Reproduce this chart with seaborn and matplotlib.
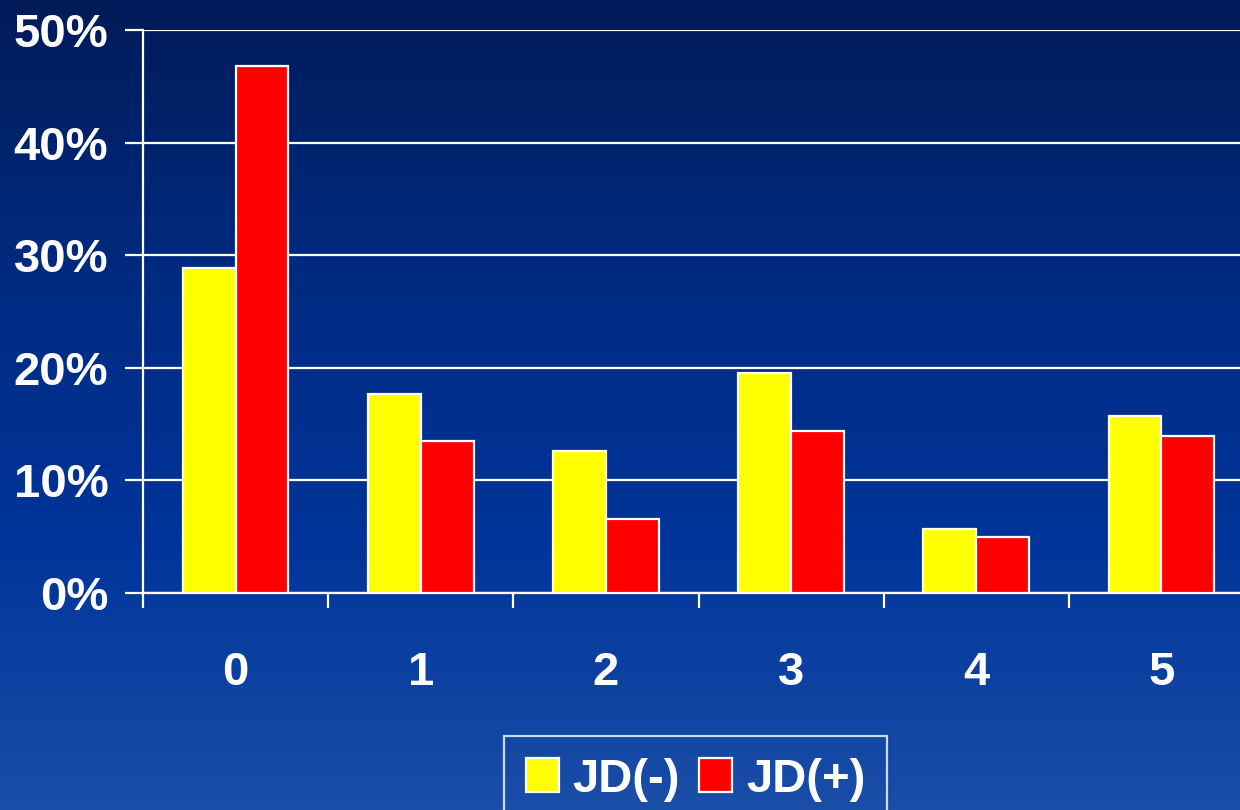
import numpy as np
import pandas as pd
import matplotlib
matplotlib.use("Agg")
import matplotlib.pyplot as plt
from matplotlib.colors import LinearSegmentedColormap
import seaborn as sns

# values (percent)
categories = ["0", "1", "2", "3", "4", "5"]
series_names = ["JD(-)", "JD(+)"]
jd_neg = [28.9, 17.7, 12.6, 19.5, 5.7, 15.7]
jd_pos = [46.8, 13.5, 6.6, 14.4, 5.0, 13.9]
y_ticks = [0, 10, 20, 30, 40, 50]
y_labels = ["0%", "10%", "20%", "30%", "40%", "50%"]
bar_colors = ["#ffff00", "#ff0000"]

df = pd.DataFrame({
    "group": categories * 2,
    "series": [series_names[0]] * len(categories) + [series_names[1]] * len(categories),
    "value": jd_neg + jd_pos,
})

sns.set_style("white")
plt.rcParams["font.family"] = ["Liberation Sans", "DejaVu Sans"]
plt.rcParams["font.weight"] = "bold"

fig = plt.figure(figsize=(12.4, 8.1), dpi=100)

# gradient background
bg = fig.add_axes([0, 0, 1, 1], zorder=-1)
grad = np.linspace(0, 1, 256).reshape(-1, 1)
cmap = LinearSegmentedColormap.from_list("bg", ["#001b58", "#002a80", "#00349a", "#1a4ea8"])
bg.imshow(grad, aspect="auto", cmap=cmap, extent=[0, 1, 0, 1], origin="upper")
bg.set_axis_off()

ax = fig.add_axes([143 / 1240, 217 / 810, 1111 / 1240, 563 / 810])
ax.patch.set_alpha(0)

sns.barplot(data=df, x="group", y="value", hue="series", palette=bar_colors,
            saturation=1, width=0.57, edgecolor="white", linewidth=1.6, ax=ax, zorder=3)

ax.set_xlim(-0.5, 5.5)
ax.set_ylim(0, 50)
ax.set_yticks(y_ticks)
ax.set_yticklabels(y_labels)
ax.yaxis.grid(True, color="white", linewidth=1.6, zorder=0)
ax.set_axisbelow(True)

ax.set_xlabel("")
ax.set_ylabel("")
ax.set_xticks(range(len(categories)))
ax.set_xticklabels(categories)
ax.set_xticks(np.arange(-0.5, 6.0, 1.0), minor=True)
ax.tick_params(axis="x", which="major", bottom=True, length=0, pad=42, labelsize=34, labelcolor="white")
ax.tick_params(axis="x", which="minor", bottom=True, length=11, width=1.6, color="white", direction="out")
ax.tick_params(axis="y", left=True, length=13, width=1.6, color="white", pad=12, labelsize=34, labelcolor="white")
for lab in ax.get_xticklabels() + ax.get_yticklabels():
    lab.set_fontweight("bold")

for side in ["top", "right"]:
    ax.spines[side].set_visible(False)
for side in ["left", "bottom"]:
    ax.spines[side].set_color("white")
    ax.spines[side].set_linewidth(1.6)

handles, labels = ax.get_legend_handles_labels()
ax.get_legend().remove()
leg = fig.legend(handles, labels, loc="upper center", bbox_to_anchor=(0.561, 0.091),
                 ncol=2, frameon=True, fancybox=False, facecolor="none",
                 edgecolor="white", prop={"size": 34, "weight": "bold"},
                 handlelength=0.7, handleheight=0.7, handletextpad=0.3,
                 columnspacing=0.4, borderpad=0.45, borderaxespad=0)
for t in leg.get_texts():
    t.set_color("white")
leg.get_frame().set_linewidth(1.6)

fig.savefig("out.png", dpi=100)
